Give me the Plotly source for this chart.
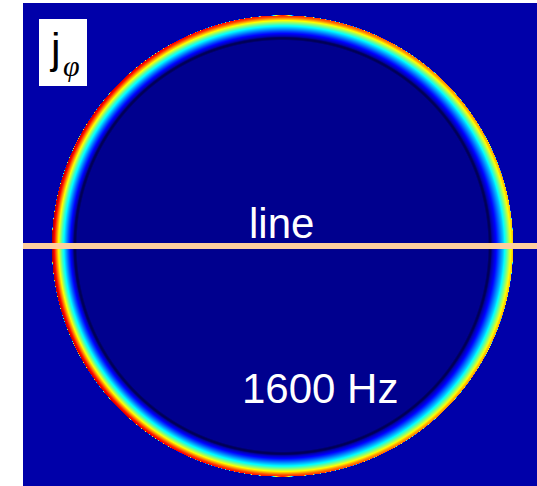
import numpy as np
import plotly.graph_objects as go

# ---- data (pixel units of the image) ----
# radial profile of the ring current density, depth measured inward from the outer edge
ring_depth = [-3.0, -0.3, 0.0, 2.0, 4.0, 6.0, 8.0, 10.0, 12.0, 14.0, 16.0, 18.0, 20.0, 22.0, 40.0]
ring_shape = [0.0, 0.0, 1.0, 0.92, 0.80, 0.68, 0.57, 0.46, 0.38, 0.30, 0.22, 0.15, 0.08, 0.0, 0.0]
# background level (outside, dark inner contour, interior)
base_depth = [-3.0, -0.3, 0.0, 21.0, 22.5, 23.5, 25.0, 40.0]
base_level = [0.04, 0.04, 0.0, 0.0, -0.06, -0.06, 0.014, 0.014]
# peak amplitude around the ring (degrees, counter-clockwise from +x)
amp_angle = [0, 45, 90, 135, 180, 225, 270, 315, 360]
amp_value = [0.68, 0.75, 0.85, 0.93, 0.97, 0.93, 0.85, 0.74, 0.68]

labels = ["line", "1600 Hz"]
title_main = "j"
title_sub = "φ"

# geometry of the image
W, H = 514, 483
cx, cy, R = 259.5, 243.0, 230.5

x = np.arange(W) + 0.5
y = np.arange(H) + 0.5
X, Y = np.meshgrid(x, y)
dx = X - cx
dy = cy - Y
r = np.hypot(dx, dy)
theta = np.degrees(np.arctan2(dy, dx)) % 360
depth = np.clip(R - r, -3.0, 40.0)
amp = np.interp(theta, amp_angle, amp_value)
z = amp * np.interp(depth, ring_depth, ring_shape) + np.interp(depth, base_depth, base_level)
z = z.astype(np.float32)

zmin, zmax = -0.1, 1.0
stops = [(-0.1, "rgb(0,0,60)"), (0.0, "rgb(0,0,128)"), (0.125, "rgb(0,0,255)"),
         (0.375, "rgb(0,255,255)"), (0.625, "rgb(255,255,0)"), (0.875, "rgb(255,0,0)"),
         (1.0, "rgb(128,0,0)")]
colorscale = [[(v - zmin) / (zmax - zmin), c] for v, c in stops]

fig = go.Figure(go.Heatmap(x=x, y=y, z=z, zmin=zmin, zmax=zmax, colorscale=colorscale,
                           showscale=False, hoverinfo="skip"))

# horizontal "line" through the centre
fig.add_shape(type="line", xref="x", yref="y", x0=0, x1=W, y0=cy, y1=cy,
              line=dict(color="rgb(255,207,158)", width=6))
# white label box
fig.add_shape(type="rect", xref="x", yref="y", x0=16, x1=64, y0=16, y1=83,
              fillcolor="white", line=dict(width=0))

font_main = "Arial, 'Liberation Sans', sans-serif"
fig.add_annotation(x=258, y=220, xref="x", yref="y", text=labels[0], showarrow=False,
                   font=dict(family=font_main, size=42, color="white"))
fig.add_annotation(x=297, y=385, xref="x", yref="y", text=labels[1], showarrow=False,
                   font=dict(family=font_main, size=42, color="white"))
fig.add_annotation(x=32, y=45, xref="x", yref="y", text=title_main, showarrow=False,
                   font=dict(family=font_main, size=43, color="black"))
fig.add_annotation(x=48.5, y=62, xref="x", yref="y", text="<i>" + title_sub + "</i>", showarrow=False,
                   font=dict(family="'Liberation Serif', 'Times New Roman', serif", size=30, color="black"))

fig.update_layout(width=537, height=486, margin=dict(l=23, r=0, t=3, b=0),
                  paper_bgcolor="white", plot_bgcolor="white", showlegend=False)
fig.update_xaxes(range=[0, W], visible=False, showgrid=False, zeroline=False)
fig.update_yaxes(range=[H, 0], visible=False, showgrid=False, zeroline=False)

fig.write_html("out.html", config={"displayModeBar": False, "staticPlot": True},
               post_script="document.body.style.margin='0';document.body.style.overflow='hidden';")
